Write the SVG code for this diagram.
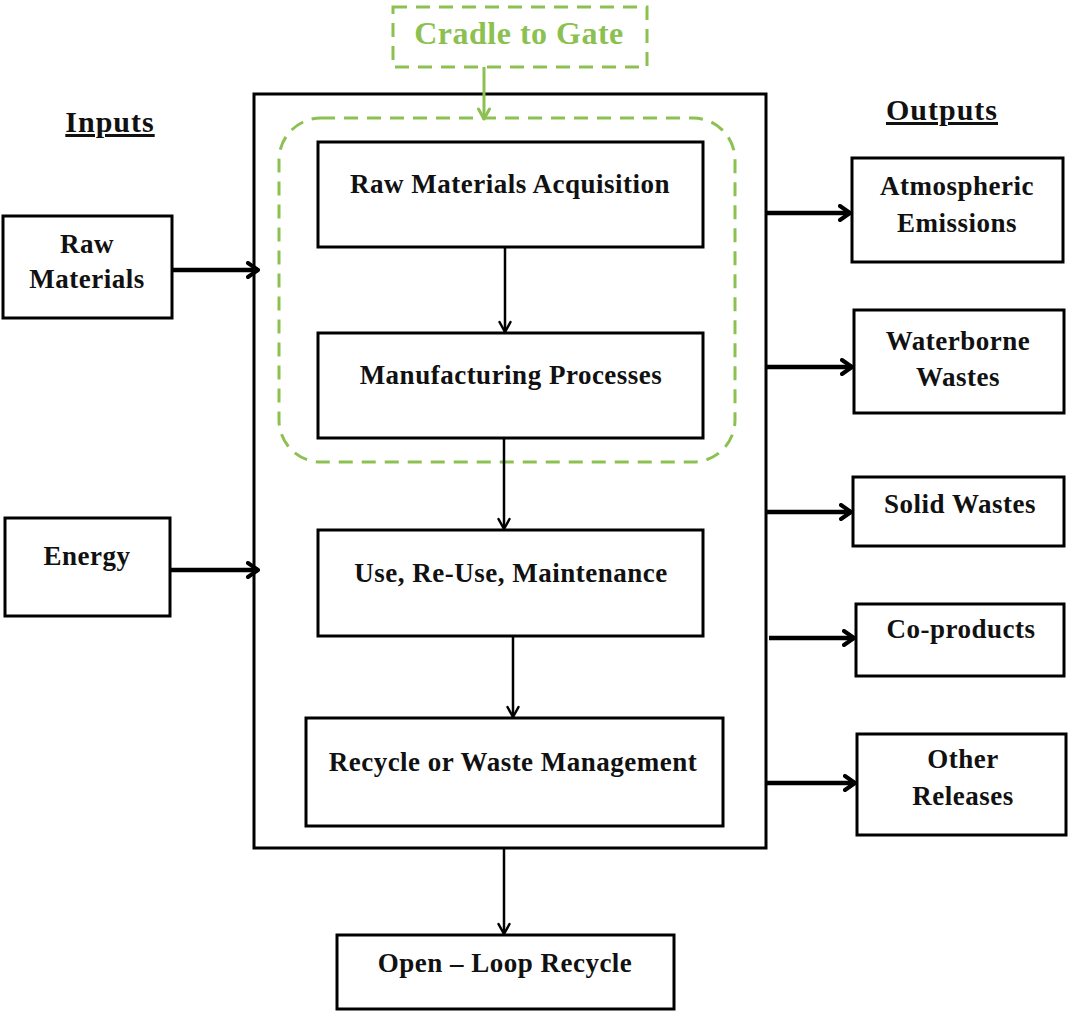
<svg xmlns="http://www.w3.org/2000/svg" width="1069" height="1012" viewBox="0 0 1069 1012">
  <defs>
    <style>
      .box { fill: #fff; stroke: #000; stroke-width: 3; }
      .lbl { font-family: "Liberation Serif", "Times New Roman", serif; font-weight: bold; font-size: 27px; letter-spacing: 0.5px; fill: #111; text-anchor: middle; }
      .head { font-size: 30px; letter-spacing: 1px; text-decoration: underline; }
      .green { fill: #8cc152; font-size: 32px; }
      .dash { fill: none; stroke: #8cc152; stroke-width: 3; stroke-dasharray: 14 9; }
      .thin { fill: none; stroke: #000; stroke-width: 2.5; }
      .thick { fill: none; stroke: #000; stroke-width: 4.5; }
    </style>
    <marker id="vHead" viewBox="0 0 14 14" refX="12" refY="7" markerWidth="14" markerHeight="14" markerUnits="userSpaceOnUse" orient="auto">
      <path d="M2,1.5 L12,7 L2,12.5" fill="none" stroke="#000" stroke-width="2.5" stroke-linecap="round" stroke-linejoin="round"/>
    </marker>
    <marker id="hHead" viewBox="0 0 14 18" refX="12" refY="9" markerWidth="14" markerHeight="18" markerUnits="userSpaceOnUse" orient="auto">
      <path d="M2,2 L12,9 L2,16" fill="none" stroke="#000" stroke-width="4" stroke-linecap="round" stroke-linejoin="round"/>
    </marker>
    <marker id="gHead" viewBox="0 0 14 14" refX="12" refY="7" markerWidth="14" markerHeight="14" markerUnits="userSpaceOnUse" orient="auto">
      <path d="M2,1.5 L12,7 L2,12.5" fill="none" stroke="#8cc152" stroke-width="3" stroke-linecap="round" stroke-linejoin="round"/>
    </marker>
  </defs>

  <rect width="1069" height="1012" fill="#fff"/>

  <!-- life-cycle boundary -->
  <g id="system">
    <rect class="box" x="254" y="94" width="512" height="754"/>
  </g>

  <!-- cradle-to-gate scope -->
  <g id="cradle-gate">
    <rect class="dash" x="393" y="7" width="254" height="60"/>
    <text class="lbl green" x="519" y="44">Cradle to Gate</text>
  </g>
  <g id="gate-scope">
    <rect class="dash" x="279" y="118" width="456" height="344" rx="42" ry="42"/>
  </g>

  <g id="hdr-inputs"><text class="lbl head" x="110" y="132">Inputs</text></g>
  <g id="hdr-outputs"><text class="lbl head" x="942" y="120">Outputs</text></g>

  <g id="raw-materials">
    <rect class="box" x="3" y="216" width="169" height="102"/>
    <text class="lbl" x="87" y="253">Raw</text>
    <text class="lbl" x="87" y="288">Materials</text>
  </g>
  <g id="energy">
    <rect class="box" x="5" y="518" width="165" height="98"/>
    <text class="lbl" x="87" y="565">Energy</text>
  </g>

  <g id="acquisition">
    <rect class="box" x="318" y="142" width="385" height="105"/>
    <text class="lbl" x="510" y="193">Raw Materials Acquisition</text>
  </g>
  <g id="manufacturing">
    <rect class="box" x="318" y="333" width="385" height="105"/>
    <text class="lbl" x="511" y="384">Manufacturing Processes</text>
  </g>
  <g id="use">
    <rect class="box" x="318" y="530" width="385" height="106"/>
    <text class="lbl" x="511" y="582">Use, Re-Use, Maintenance</text>
  </g>
  <g id="recycle">
    <rect class="box" x="306" y="718" width="417" height="108"/>
    <text class="lbl" x="513" y="771">Recycle or Waste Management</text>
  </g>
  <g id="open-loop">
    <rect class="box" x="337" y="935" width="337" height="74"/>
    <text class="lbl" x="505" y="972">Open – Loop Recycle</text>
  </g>

  <g id="atmospheric">
    <rect class="box" x="852" y="158" width="211" height="104"/>
    <text class="lbl" x="957" y="195">Atmospheric</text>
    <text class="lbl" x="957" y="232">Emissions</text>
  </g>
  <g id="waterborne">
    <rect class="box" x="854" y="310" width="210" height="103"/>
    <text class="lbl" x="958" y="350">Waterborne</text>
    <text class="lbl" x="958" y="386">Wastes</text>
  </g>
  <g id="solid">
    <rect class="box" x="853" y="477" width="211" height="69"/>
    <text class="lbl" x="960" y="513">Solid Wastes</text>
  </g>
  <g id="coproducts">
    <rect class="box" x="856" y="604" width="208" height="72"/>
    <text class="lbl" x="961" y="638">Co-products</text>
  </g>
  <g id="other">
    <rect class="box" x="857" y="734" width="209" height="101"/>
    <text class="lbl" x="963" y="768">Other</text>
    <text class="lbl" x="963" y="805">Releases</text>
  </g>

  <!-- connectors -->
  <g id="connectors">
    <line x1="484" y1="67" x2="484" y2="119" stroke="#8cc152" stroke-width="3" marker-end="url(#gHead)"/>
    <line class="thin" x1="505" y1="247" x2="505" y2="332" marker-end="url(#vHead)"/>
    <line class="thin" x1="504" y1="438" x2="504" y2="529" marker-end="url(#vHead)"/>
    <line class="thin" x1="513" y1="636" x2="513" y2="717" marker-end="url(#vHead)"/>
    <line class="thin" x1="504" y1="848" x2="504" y2="934" marker-end="url(#vHead)"/>

    <line class="thick" x1="172" y1="270" x2="258" y2="270" marker-end="url(#hHead)"/>
    <line class="thick" x1="170" y1="570" x2="258" y2="570" marker-end="url(#hHead)"/>

    <line class="thick" x1="766" y1="213" x2="850" y2="213" marker-end="url(#hHead)"/>
    <line class="thick" x1="766" y1="367" x2="852" y2="367" marker-end="url(#hHead)"/>
    <line class="thick" x1="766" y1="512" x2="851" y2="512" marker-end="url(#hHead)"/>
    <line class="thick" x1="769" y1="638" x2="854" y2="638" marker-end="url(#hHead)"/>
    <line class="thick" x1="766" y1="783" x2="855" y2="783" marker-end="url(#hHead)"/>
  </g>
</svg>
